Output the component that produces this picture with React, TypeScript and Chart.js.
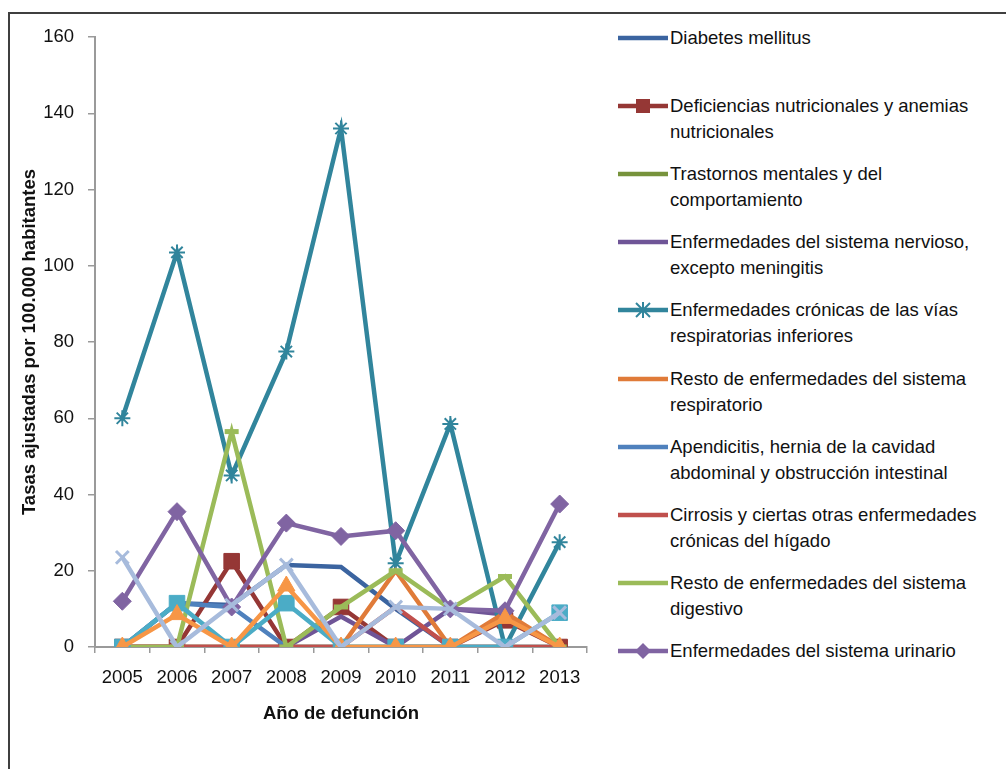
import React, { useEffect, useRef } from "react";
import { Chart, registerables } from "chart.js";

Chart.register(...registerables);

// ---------- data ----------
const years = ["2005", "2006", "2007", "2008", "2009", "2010", "2011", "2012", "2013"];

const diabetes = [0, 11.5, 11, 21.5, 21, 10, 0, 8, 0];
const deficiencias = [0, 0, 22.5, 0, 10.5, 0, 0, 7, 0];
const trastornos = [0, 0, 0, 0, 0, 0, 0, 0, 0];
const nervioso = [0, 0, 0, 0, 8, 0, 10, 8.5, 0];
const cronicasResp = [60, 103.5, 45, 77.5, 136, 22, 58.5, 0, 27.5];
const restoResp = [0, 0, 0, 0, 0, 20, 0, 9, 0];
const apendicitis = [0, 11.5, 10.5, 0, 0, 0, 0, 0, 0];
const cirrosis = [0, 0, 0, 0, 0, 10.5, 0, 0, 0];
const restoDigestivo = [0, 0, 56.5, 0, 10.5, 20, 10, 18.5, 0];
const urinario = [12, 35.5, 10.5, 32.5, 29, 30.5, 10, 9.5, 37.5];
const prostata = [0, 11.5, 0, 11.5, 0, 0, 0, 0, 9];
const embarazo = [0, 8.5, 0, 16, 0, 0, 0, 7.5, 0];
const malformaciones = [23.5, 0, 11, 21.5, 0, 10.5, 10, 0, 9];

const yMin = 0;
const yMax = 160;
const yStep = 20;

const yTitle = "Tasas ajustadas por 100.000 habitantes";
const xTitle = "Año de defunción";

type Series = {
  label: string;
  lines: string[];
  data: number[];
  color: string;
  style: string | false;
  radius: number;
  pbw: number;
  inLegend: boolean;
};

const series: Series[] = [
  { label: "Diabetes mellitus", lines: ["Diabetes mellitus"], data: diabetes, color: "#3b64a0", style: false, radius: 0, pbw: 0, inLegend: true },
  { label: "Deficiencias nutricionales y anemias nutricionales", lines: ["Deficiencias nutricionales y anemias", "nutricionales"], data: deficiencias, color: "#953735", style: "rect", radius: 11, pbw: 1, inLegend: true },
  { label: "Trastornos mentales y del comportamiento", lines: ["Trastornos mentales y del", "comportamiento"], data: trastornos, color: "#77933c", style: false, radius: 0, pbw: 0, inLegend: true },
  { label: "Enfermedades del sistema nervioso, excepto meningitis", lines: ["Enfermedades del sistema nervioso,", "excepto meningitis"], data: nervioso, color: "#6f5597", style: false, radius: 0, pbw: 0, inLegend: true },
  { label: "Enfermedades crónicas de las vías respiratorias inferiores", lines: ["Enfermedades crónicas de las vías", "respiratorias inferiores"], data: cronicasResp, color: "#31859c", style: "star", radius: 8, pbw: 2, inLegend: true },
  { label: "Resto de enfermedades del sistema respiratorio", lines: ["Resto de enfermedades del sistema", "respiratorio"], data: restoResp, color: "#e07b39", style: false, radius: 0, pbw: 0, inLegend: true },
  { label: "Apendicitis, hernia de la cavidad abdominal y obstrucción intestinal", lines: ["Apendicitis, hernia de la cavidad", "abdominal y obstrucción intestinal"], data: apendicitis, color: "#4f81bd", style: false, radius: 0, pbw: 0, inLegend: true },
  { label: "Cirrosis y ciertas otras enfermedades crónicas del hígado", lines: ["Cirrosis y ciertas otras enfermedades", "crónicas del hígado"], data: cirrosis, color: "#c0504d", style: false, radius: 0, pbw: 0, inLegend: true },
  { label: "Resto de enfermedades del sistema digestivo", lines: ["Resto de enfermedades del sistema", "digestivo"], data: restoDigestivo, color: "#9bbb59", style: "line", radius: 7, pbw: 5, inLegend: true },
  { label: "Enfermedades del sistema urinario", lines: ["Enfermedades del sistema urinario"], data: urinario, color: "#8064a2", style: "rectRot", radius: 9, pbw: 1, inLegend: true },
  { label: "Hiperplasia de la próstata", lines: ["Hiperplasia de la próstata"], data: prostata, color: "#4bacc6", style: "rect", radius: 11, pbw: 1, inLegend: false },
  { label: "Embarazo, parto y puerperio", lines: ["Embarazo, parto y puerperio"], data: embarazo, color: "#f79646", style: "triangle", radius: 10, pbw: 1, inLegend: false },
  { label: "Malformaciones congénitas, deformidades y anomalías cromosómicas", lines: ["Malformaciones congénitas"], data: malformaciones, color: "#a7bbdc", style: "crossRot", radius: 9, pbw: 3, inLegend: false },
];

const FONT = "'Liberation Sans', Arial, Helvetica, sans-serif";
const TEXT = "#111111";
const AXIS = "#9a9a9a";

function LegendSample({ s }: { s: Series }) {
  const cx = 25;
  const cy = 13;
  let marker: React.ReactNode = null;
  if (s.style === "rect") {
    marker = <rect x={cx - 7} y={cy - 7} width={14} height={14} fill={s.color} />;
  } else if (s.style === "rectRot") {
    marker = <polygon points={`${cx - 8},${cy} ${cx},${cy - 8} ${cx + 8},${cy} ${cx},${cy + 8}`} fill={s.color} />;
  } else if (s.style === "star") {
    marker = (
      <g stroke={s.color} strokeWidth={2}>
        <line x1={cx - 7} y1={cy - 7} x2={cx + 7} y2={cy + 7} />
        <line x1={cx - 7} y1={cy + 7} x2={cx + 7} y2={cy - 7} />
        <line x1={cx} y1={cy - 8} x2={cx} y2={cy + 8} />
      </g>
    );
  }
  return (
    <svg width={50} height={26} style={{ position: "absolute", left: 0, top: 0 }}>
      <line x1={0} y1={cy} x2={50} y2={cy} stroke={s.color} strokeWidth={4.5} strokeLinecap="round" />
      {marker}
    </svg>
  );
}

export default function App() {
  const canvasRef = useRef<HTMLCanvasElement | null>(null);

  useEffect(() => {
    const canvas = canvasRef.current;
    if (!canvas) return;
    const n = series.length;
    const chart = new Chart(canvas, {
      type: "line",
      data: {
        labels: years,
        datasets: series.map((s, i) => ({
          label: s.label,
          data: s.data,
          borderColor: s.color,
          backgroundColor: s.color,
          borderWidth: 4.5,
          pointStyle: (s.style || "circle") as any,
          pointRadius: s.radius,
          pointHoverRadius: s.radius,
          pointBorderWidth: s.pbw,
          pointBorderColor: s.color,
          pointBackgroundColor: s.color,
          tension: 0,
          order: n - i,
        })),
      },
      options: {
        animation: false,
        responsive: false,
        maintainAspectRatio: false,
        events: [],
        layout: { padding: { left: 19, top: 37, right: 13, bottom: 0 } },
        plugins: {
          legend: { display: false },
          tooltip: { enabled: false },
          title: { display: false },
        },
        scales: {
          x: {
            type: "category",
            offset: true,
            grid: {
              offset: true,
              drawOnChartArea: false,
              drawTicks: true,
              tickLength: 6,
              color: AXIS,
              lineWidth: 1.5,
            },
            border: { display: true, color: AXIS, width: 2 },
            ticks: {
              color: TEXT,
              font: { family: FONT, size: 18.5 },
              padding: 14,
              maxRotation: 0,
              autoSkip: false,
            },
            title: {
              display: true,
              text: xTitle,
              color: TEXT,
              font: { family: FONT, size: 18.5, weight: "bold" },
              padding: { top: 0, bottom: 44 },
            },
            afterFit: (scale: any) => {
              scale.height = 122;
            },
          },
          y: {
            type: "linear",
            min: yMin,
            max: yMax,
            ticks: {
              stepSize: yStep,
              color: TEXT,
              font: { family: FONT, size: 18.5 },
              padding: 14,
            },
            grid: {
              drawOnChartArea: false,
              drawTicks: true,
              tickLength: 7,
              color: AXIS,
              lineWidth: 1.5,
            },
            border: { display: true, color: AXIS, width: 2 },
            title: {
              display: true,
              text: yTitle,
              color: TEXT,
              font: { family: FONT, size: 18.5, weight: "bold" },
              padding: { top: 0, bottom: 0 },
            },
            afterFit: (scale: any) => {
              scale.width = 76;
            },
          },
        },
      },
    });
    return () => chart.destroy();
  }, []);

  const legendItems = series.filter((s) => s.inLegend);

  return (
    <div
      style={{
        position: "absolute",
        left: 0,
        top: 0,
        width: 1006,
        height: 769,
        overflow: "hidden",
        background: "#ffffff",
        fontFamily: FONT,
      }}
    >
      <div
        style={{
          position: "absolute",
          left: 8,
          top: 12,
          width: 1010,
          height: 780,
          borderTop: "2px solid #3f3f3f",
          borderLeft: "2px solid #3f3f3f",
          boxSizing: "border-box",
        }}
      />
      <canvas
        ref={canvasRef}
        width={600}
        height={769}
        style={{ position: "absolute", left: 0, top: 0, width: 600, height: 769 }}
      />
      {legendItems.map((s, i) => {
        const cy = 37.5 + i * 68.2;
        return (
          <div
            key={s.label}
            style={{ position: "absolute", left: 618, top: cy - 13, width: 380, height: 60 }}
          >
            <LegendSample s={s} />
            <div
              style={{
                position: "absolute",
                left: 52,
                top: 0,
                fontSize: 18.5,
                lineHeight: "26px",
                color: TEXT,
                whiteSpace: "nowrap",
              }}
            >
              {s.lines.map((t) => (
                <div key={t}>{t}</div>
              ))}
            </div>
          </div>
        );
      })}
    </div>
  );
}
